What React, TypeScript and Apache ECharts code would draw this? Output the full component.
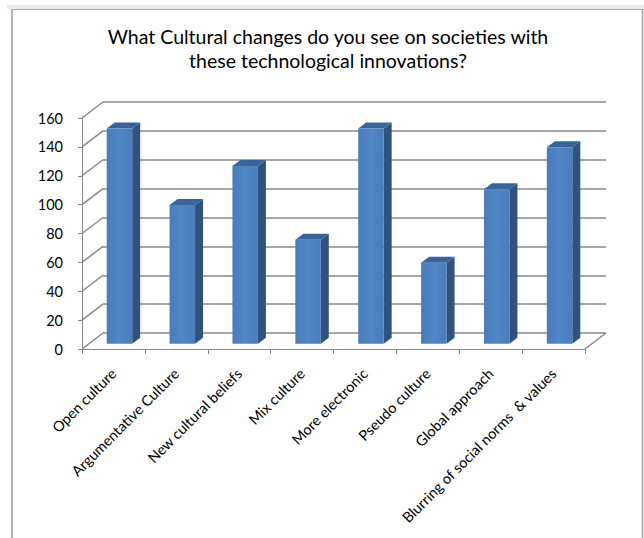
import React, { useEffect, useRef } from "react";
import * as echarts from "echarts";

const titleLines = ["What Cultural changes do you see on societies with", "these technological innovations?"];
const categories = [
  "Open culture",
  "Argumentative Culture",
  "New cultural beliefs",
  "Mix culture",
  "More electronic",
  "Pseudo culture",
  "Global approach",
  "Blurring of social norms  & values",
];
const values = [149, 96, 123, 72, 149, 56, 107, 136];
const yTicks = [0, 20, 40, 60, 80, 100, 120, 140, 160];

const FONT = "Lato, 'Open Sans', sans-serif";
const GRID_COLOR = "#888888";
const DEPTH_X = 21;
const DEPTH_Y = -16;
const BAR_DX = 6;
const BAR_DY = -5.3;
const BAR_SX = 8;
const BAR_SY = -6;

export default function App() {
  const ref = useRef<HTMLDivElement>(null);
  useEffect(() => {
    if (!ref.current) return;
    const chart = echarts.init(ref.current, null, { renderer: "svg" });
    const option: any = {
      animation: false,
      backgroundColor: "#ffffff",
      title: {
        text: titleLines.join("\n"),
        left: 323,
        textAlign: "center",
        top: 19,
        textStyle: { fontFamily: FONT, fontSize: 19.5, fontWeight: "normal", color: "#000", lineHeight: 24 },
      },
      grid: [
        { left: 82, top: 118, width: 503, height: 231 },
        { left: 103, top: 102, width: 503, height: 231 },
      ],
      xAxis: [
        {
          type: "category",
          gridIndex: 0,
          data: categories,
          axisLine: { lineStyle: { color: GRID_COLOR, width: 1 } },
          axisTick: { show: true, length: 5, interval: 0, lineStyle: { color: GRID_COLOR } },
          axisLabel: {
            interval: 0,
            rotate: 45,
            margin: 22,
            fontFamily: FONT,
            fontSize: 14.5,
            color: "#000",
          },
          splitLine: { show: false },
        },
        {
          type: "category",
          gridIndex: 1,
          data: categories,
          show: false,
        },
      ],
      yAxis: [
        {
          type: "value",
          gridIndex: 0,
          min: 0,
          max: 160,
          interval: 20,
          axisLine: { show: true, lineStyle: { color: GRID_COLOR, width: 1 } },
          axisTick: { show: true, length: 4, lineStyle: { color: GRID_COLOR } },
          axisLabel: { fontFamily: FONT, fontSize: 14.5, color: "#000", margin: 19 },
          splitLine: { show: false },
        },
        {
          type: "value",
          gridIndex: 1,
          min: 0,
          max: 160,
          interval: 20,
          axisLine: { show: false },
          axisTick: { show: false },
          axisLabel: { show: false },
          splitLine: { show: true, lineStyle: { color: GRID_COLOR, width: 1.5 } },
        },
      ],
      series: [
        {
          type: "custom",
          xAxisIndex: 0,
          yAxisIndex: 0,
          data: yTicks.map((v) => [0, v]),
          silent: true,
          z: 1,
          renderItem: (params: any, api: any) => {
            const p = api.coord([api.value(0), api.value(1)]);
            const w = api.size([1, 0])[0];
            const x0 = p[0] - w / 2;
            return {
              type: "line",
              shape: { x1: x0, y1: p[1], x2: x0 + DEPTH_X, y2: p[1] + DEPTH_Y },
              style: { stroke: GRID_COLOR, lineWidth: 1.5 },
            };
          },
        },
        {
          type: "custom",
          xAxisIndex: 0,
          yAxisIndex: 0,
          data: [[categories.length - 1, 0]],
          silent: true,
          z: 1,
          renderItem: (params: any, api: any) => {
            const p = api.coord([api.value(0), api.value(1)]);
            const w = api.size([1, 0])[0];
            const x0 = p[0] + w / 2;
            return {
              type: "line",
              shape: { x1: x0, y1: p[1], x2: x0 + DEPTH_X, y2: p[1] + DEPTH_Y },
              style: { stroke: GRID_COLOR, lineWidth: 1.5 },
            };
          },
        },
        {
          type: "custom",
          xAxisIndex: 0,
          yAxisIndex: 0,
          data: values.map((v, i) => [i, v]),
          z: 3,
          renderItem: (params: any, api: any) => {
            const i = api.value(0);
            const top = api.coord([i, api.value(1)]);
            const base = api.coord([i, 0]);
            const bw = api.size([1, 0])[0] * 0.405;
            const fx = top[0] - bw / 2 + BAR_DX;
            const ty = top[1] + BAR_DY;
            const by = base[1] + BAR_DY;
            return {
              type: "group",
              children: [
                {
                  type: "polygon",
                  shape: {
                    points: [
                      [fx + bw, ty],
                      [fx + bw + BAR_SX, ty + BAR_SY],
                      [fx + bw + BAR_SX, by + BAR_SY],
                      [fx + bw, by],
                    ],
                  },
                  style: { fill: "#30527f" },
                },
                {
                  type: "polygon",
                  shape: {
                    points: [
                      [fx, ty],
                      [fx + BAR_SX, ty + BAR_SY],
                      [fx + bw + BAR_SX, ty + BAR_SY],
                      [fx + bw, ty],
                    ],
                  },
                  style: { fill: "#3a6398" },
                },
                {
                  type: "rect",
                  shape: { x: fx, y: ty, width: bw, height: by - ty },
                  style: {
                    fill: new echarts.graphic.LinearGradient(0, 0, 1, 0, [
                      { offset: 0, color: "#4a7cba" },
                      { offset: 0.5, color: "#5087c8" },
                      { offset: 1, color: "#4a7cba" },
                    ]),
                  },
                },
              ],
            };
          },
        },
      ],
      graphic: [
        { type: "rect", shape: { x: 7, y: 5, width: 637, height: 4 }, style: { fill: "#ebebeb" }, silent: true },
        { type: "line", shape: { x1: 11, y1: 9.5, x2: 644, y2: 9.5 }, style: { stroke: "#a6a6a6", lineWidth: 1 }, silent: true },
        { type: "line", shape: { x1: 12, y1: 9, x2: 12, y2: 538 }, style: { stroke: "#b4b4b4", lineWidth: 2 }, silent: true },
        { type: "line", shape: { x1: 642.5, y1: 9, x2: 642.5, y2: 538 }, style: { stroke: "#a0a0a0", lineWidth: 1.5 }, silent: true },
      ],
    };
    chart.setOption(option);
    return () => chart.dispose();
  }, []);
  return <div ref={ref} style={{ position: "fixed", left: 0, top: 0, width: 644, height: 538 }} />;
}
